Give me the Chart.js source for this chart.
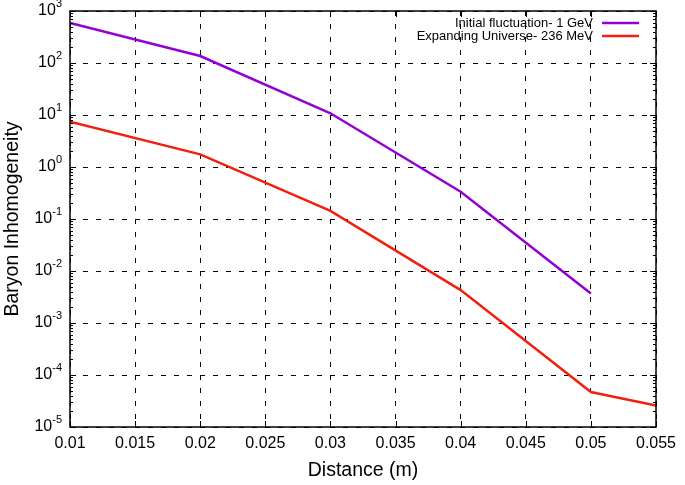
<!DOCTYPE html>
<html>
<head>
<meta charset="utf-8">
<script src="https://cdn.jsdelivr.net/npm/chart.js@4"></script>
<style>
  body { margin: 0; background: #fff; }
</style>
</head>
<body>
<canvas id="chart" width="685" height="485"></canvas>
<script>
var xTicks = [0.01, 0.015, 0.02, 0.025, 0.03, 0.035, 0.04, 0.045, 0.05, 0.055];
var yExponents = [-5, -4, -3, -2, -1, 0, 1, 2, 3];

var purpleX = [0.01, 0.02, 0.03, 0.04, 0.05];
var purpleY = [590, 136, 10.8, 0.335, 0.0037];

var redX = [0.01, 0.02, 0.03, 0.04, 0.05, 0.055];
var redY = [7.4, 1.75, 0.143, 0.0043, 0.000047, 0.000026];

var FONT = "'Liberation Sans', Arial, sans-serif";

function toPoints(xs, ys) {
    return xs.map(function (x, i) { return { x: x, y: ys[i] }; });
}

// frame, inward ticks, y labels with superscript, gnuplot-like legend
var gnuplotLook = {
    id: 'gnuplotLook',
    afterDraw: function (chart) {
        var ctx = chart.ctx;
        var a = chart.chartArea;
        var xs = chart.scales.x, ys = chart.scales.y;
        ctx.save();
        ctx.strokeStyle = '#000';
        ctx.lineWidth = 1;
        ctx.beginPath();
        // x major ticks (bottom and top)
        xTicks.forEach(function (v) {
            var px = Math.round(xs.getPixelForValue(v)) + 0.5;
            ctx.moveTo(px, a.bottom); ctx.lineTo(px, a.bottom - 6);
            ctx.moveTo(px, a.top); ctx.lineTo(px, a.top + 6);
        });
        // y major + minor ticks (left and right)
        yExponents.forEach(function (e) {
            var base = Math.pow(10, e);
            var py = Math.round(ys.getPixelForValue(base)) + 0.5;
            ctx.moveTo(a.left, py); ctx.lineTo(a.left + 6, py);
            ctx.moveTo(a.right, py); ctx.lineTo(a.right - 6, py);
            if (e < 3) {
                for (var m = 2; m < 10; m++) {
                    var my = Math.round(ys.getPixelForValue(base * m)) + 0.5;
                    ctx.moveTo(a.left, my); ctx.lineTo(a.left + 3, my);
                    ctx.moveTo(a.right, my); ctx.lineTo(a.right - 3, my);
                }
            }
        });
        ctx.stroke();
        ctx.lineWidth = 1.5;
        ctx.strokeRect(a.left, a.top, a.right - a.left, a.bottom - a.top);

        // y tick labels 10^n
        ctx.fillStyle = '#000';
        ctx.textBaseline = 'middle';
        yExponents.forEach(function (e) {
            var py = ys.getPixelForValue(Math.pow(10, e));
            var exp = (e < 0 ? '-' : '') + Math.abs(e);
            ctx.font = '11px ' + FONT;
            var ew = ctx.measureText(exp).width;
            var right = a.left - 8;
            ctx.textAlign = 'left';
            ctx.fillText(exp, right - ew, py - 7);
            ctx.font = '16px ' + FONT;
            ctx.textAlign = 'right';
            ctx.fillText('10', right - ew, py);
        });

        // legend: text then line sample
        ctx.font = '13px ' + FONT;
        ctx.textAlign = 'right';
        chart.data.datasets.forEach(function (ds, i) {
            var ly = a.top + 12 + i * 13;
            ctx.fillStyle = '#000';
            ctx.fillText(ds.label, a.right - 63, ly);
            ctx.strokeStyle = ds.borderColor;
            ctx.lineWidth = 2.5;
            ctx.beginPath();
            ctx.moveTo(a.right - 54, ly);
            ctx.lineTo(a.right - 17, ly);
            ctx.stroke();
        });
        ctx.restore();
    }
};

new Chart(document.getElementById('chart'), {
    type: 'line',
    data: {
        datasets: [
            {
                label: 'Initial fluctuation- 1 GeV',
                data: toPoints(purpleX, purpleY),
                borderColor: '#9400d3',
                backgroundColor: '#9400d3',
                borderWidth: 2.5,
                pointRadius: 0,
                fill: false,
                tension: 0
            },
            {
                label: 'Expanding Universe- 236 MeV',
                data: toPoints(redX, redY),
                borderColor: '#f0200f',
                backgroundColor: '#f0200f',
                borderWidth: 2.5,
                pointRadius: 0,
                fill: false,
                tension: 0
            }
        ]
    },
    options: {
        responsive: false,
        devicePixelRatio: 1,
        animation: false,
        layout: { padding: { top: 11, right: 29, left: 0, bottom: 0 } },
        plugins: { legend: { display: false }, tooltip: { enabled: false } },
        scales: {
            x: {
                type: 'linear',
                min: 0.01,
                max: 0.055,
                afterBuildTicks: function (scale) {
                    scale.ticks = xTicks.map(function (v) { return { value: v }; });
                },
                afterFit: function (scale) { scale.height = 58; },
                ticks: {
                    color: '#000',
                    font: { family: FONT, size: 16 },
                    padding: 7,
                    maxRotation: 0,
                    callback: function (v) { return String(parseFloat(v.toFixed(3))); }
                },
                grid: { color: '#000', lineWidth: 1, drawTicks: false },
                border: { display: false, dash: [5, 8] },
                title: {
                    display: true,
                    text: 'Distance (m)',
                    color: '#000',
                    font: { family: FONT, size: 19.5 },
                    padding: { top: 0, bottom: 3 }
                }
            },
            y: {
                type: 'logarithmic',
                min: 1e-5,
                max: 1e3,
                afterBuildTicks: function (scale) {
                    scale.ticks = yExponents.map(function (e) { return { value: Math.pow(10, e) }; });
                },
                afterFit: function (scale) { scale.width = 70; },
                ticks: { display: false },
                grid: { color: '#000', lineWidth: 1, drawTicks: false },
                border: { display: false, dash: [5, 8] },
                title: {
                    display: true,
                    text: 'Baryon Inhomogeneity',
                    color: '#000',
                    font: { family: FONT, size: 19.5 },
                    padding: { top: 1, bottom: 0 }
                }
            }
        }
    },
    plugins: [gnuplotLook]
});
</script>
</body>
</html>
